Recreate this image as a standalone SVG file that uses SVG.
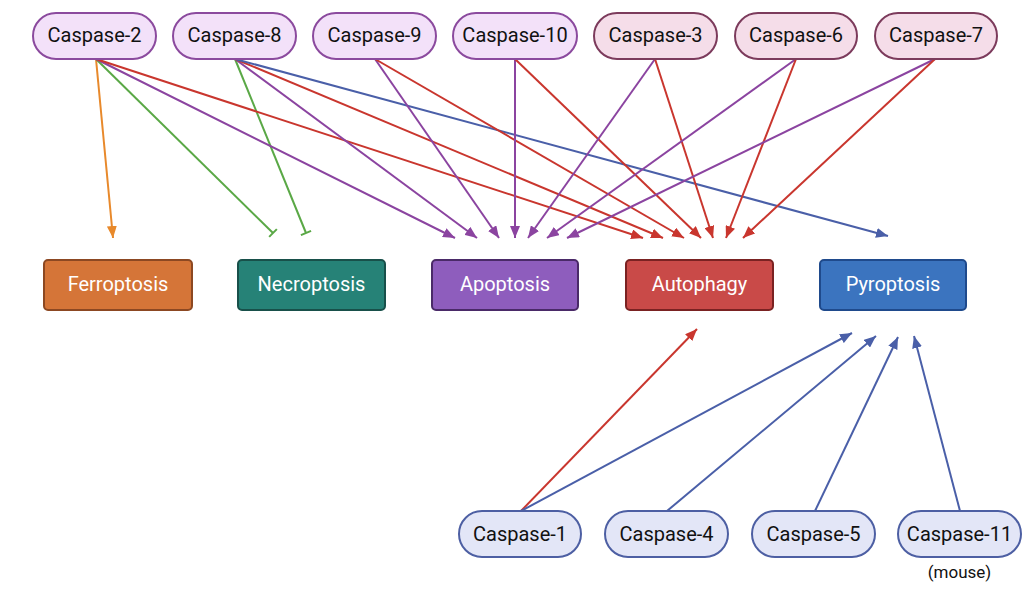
<svg xmlns="http://www.w3.org/2000/svg" width="1034" height="589" viewBox="0 0 1034 589">
<defs>
<style>
.pill text, .box text { font-family: Roboto, "Liberation Sans", sans-serif; font-size: 20px; text-anchor: middle; dominant-baseline: central; }
.pill text { fill: #111; }
.box text { fill: #fff; }
.p1 rect { fill: #f3e1f9; stroke: #8b4a9e; stroke-width: 2; }
.p2 rect { fill: #f5dde9; stroke: #7c3b5c; stroke-width: 2; }
.p3 rect { fill: #e3e6f7; stroke: #4d5fa3; stroke-width: 2; }
.box rect { stroke-width: 2; }
.edge { fill: none; stroke-width: 2; }
.or { stroke: #e8892b; }
.gr { stroke: #5aa846; }
.pu { stroke: #8b44a0; }
.rd { stroke: #c9362e; }
.bl { stroke: #4a5fa8; }
.pill text.note { font-size: 17px; dominant-baseline: auto; }
</style>
<marker id="aOr" viewBox="0 0 12 10" refX="12" refY="5" markerWidth="12" markerHeight="10" markerUnits="userSpaceOnUse" orient="auto"><path d="M0,0 L12,5 L0,10 z" fill="#e8892b"/></marker>
<marker id="aPu" viewBox="0 0 12 10" refX="12" refY="5" markerWidth="12" markerHeight="10" markerUnits="userSpaceOnUse" orient="auto"><path d="M0,0 L12,5 L0,10 z" fill="#8b44a0"/></marker>
<marker id="aRd" viewBox="0 0 12 10" refX="12" refY="5" markerWidth="12" markerHeight="10" markerUnits="userSpaceOnUse" orient="auto"><path d="M0,0 L12,5 L0,10 z" fill="#c9362e"/></marker>
<marker id="aBl" viewBox="0 0 12 10" refX="12" refY="5" markerWidth="12" markerHeight="10" markerUnits="userSpaceOnUse" orient="auto"><path d="M0,0 L12,5 L0,10 z" fill="#4a5fa8"/></marker>
<marker id="tGr" viewBox="-2 -6 4 12" refX="0" refY="0" markerWidth="4" markerHeight="12" markerUnits="userSpaceOnUse" orient="auto"><path d="M0,-5.5 L0,5.5" stroke="#5aa846" stroke-width="2"/></marker>
</defs>
<rect width="1034" height="589" fill="#fff"/>

<g id="connectors">
  <line class="edge or" x1="96" y1="59" x2="113" y2="238" marker-end="url(#aOr)"/>
  <line class="edge gr" x1="96" y1="59" x2="273" y2="233" marker-end="url(#tGr)"/>
  <line class="edge gr" x1="235" y1="59" x2="306" y2="233" marker-end="url(#tGr)"/>
  <line class="edge pu" x1="96" y1="59" x2="455" y2="238" marker-end="url(#aPu)"/>
  <line class="edge rd" x1="96" y1="59" x2="643" y2="238" marker-end="url(#aRd)"/>
  <line class="edge pu" x1="235" y1="59" x2="477" y2="238" marker-end="url(#aPu)"/>
  <line class="edge rd" x1="235" y1="59" x2="663" y2="238" marker-end="url(#aRd)"/>
  <line class="edge bl" x1="235" y1="59" x2="888" y2="236" marker-end="url(#aBl)"/>
  <line class="edge pu" x1="375" y1="59" x2="499" y2="238" marker-end="url(#aPu)"/>
  <line class="edge rd" x1="375" y1="59" x2="684" y2="238" marker-end="url(#aRd)"/>
  <line class="edge pu" x1="515" y1="59" x2="515" y2="238" marker-end="url(#aPu)"/>
  <line class="edge rd" x1="515" y1="59" x2="701" y2="238" marker-end="url(#aRd)"/>
  <line class="edge pu" x1="655" y1="59" x2="528" y2="238" marker-end="url(#aPu)"/>
  <line class="edge rd" x1="655" y1="59" x2="713" y2="238" marker-end="url(#aRd)"/>
  <line class="edge pu" x1="796" y1="59" x2="547" y2="238" marker-end="url(#aPu)"/>
  <line class="edge rd" x1="796" y1="59" x2="726" y2="238" marker-end="url(#aRd)"/>
  <line class="edge pu" x1="935" y1="59" x2="567" y2="238" marker-end="url(#aPu)"/>
  <line class="edge rd" x1="935" y1="59" x2="743" y2="238" marker-end="url(#aRd)"/>
  <line class="edge rd" x1="521" y1="511" x2="697" y2="329" marker-end="url(#aRd)"/>
  <line class="edge bl" x1="521" y1="511" x2="852" y2="333" marker-end="url(#aBl)"/>
  <line class="edge bl" x1="667" y1="511" x2="876" y2="336" marker-end="url(#aBl)"/>
  <line class="edge bl" x1="815" y1="511" x2="898" y2="337" marker-end="url(#aBl)"/>
  <line class="edge bl" x1="960" y1="511" x2="914" y2="336" marker-end="url(#aBl)"/>
</g>

<g id="caspase-2" class="pill p1"><rect x="33" y="13" width="123" height="46" rx="23"/><text x="94.5" y="35">Caspase-2</text></g>
<g id="caspase-8" class="pill p1"><rect x="173" y="13" width="123" height="46" rx="23"/><text x="234.5" y="35">Caspase-8</text></g>
<g id="caspase-9" class="pill p1"><rect x="313" y="13" width="123" height="46" rx="23"/><text x="374.5" y="35">Caspase-9</text></g>
<g id="caspase-10" class="pill p1"><rect x="453" y="13" width="124" height="46" rx="23"/><text x="515" y="35">Caspase-10</text></g>
<g id="caspase-3" class="pill p2"><rect x="594" y="13" width="123" height="46" rx="23"/><text x="655.5" y="35">Caspase-3</text></g>
<g id="caspase-6" class="pill p2"><rect x="735" y="13" width="122" height="46" rx="23"/><text x="796" y="35">Caspase-6</text></g>
<g id="caspase-7" class="pill p2"><rect x="875" y="13" width="122" height="46" rx="23"/><text x="936" y="35">Caspase-7</text></g>

<g id="ferroptosis" class="box"><rect x="44" y="260" width="148" height="50" rx="4" fill="#d57538" stroke="#8c4822"/><text x="118" y="284">Ferroptosis</text></g>
<g id="necroptosis" class="box"><rect x="238" y="260" width="147" height="50" rx="4" fill="#268277" stroke="#18504a"/><text x="311.5" y="284">Necroptosis</text></g>
<g id="apoptosis" class="box"><rect x="432" y="260" width="146" height="50" rx="4" fill="#8e5dbd" stroke="#4a2a68"/><text x="505" y="284">Apoptosis</text></g>
<g id="autophagy" class="box"><rect x="626" y="260" width="147" height="50" rx="4" fill="#c94a48" stroke="#7a2222"/><text x="699.5" y="284">Autophagy</text></g>
<g id="pyroptosis" class="box"><rect x="820" y="260" width="146" height="50" rx="4" fill="#3b74bf" stroke="#1f4a8c"/><text x="893" y="284">Pyroptosis</text></g>

<g id="caspase-1" class="pill p3"><rect x="459" y="511" width="122" height="46" rx="23"/><text x="520" y="534">Caspase-1</text></g>
<g id="caspase-4" class="pill p3"><rect x="605" y="511" width="123" height="46" rx="23"/><text x="666.5" y="534">Caspase-4</text></g>
<g id="caspase-5" class="pill p3"><rect x="752" y="511" width="123" height="46" rx="23"/><text x="813.5" y="534">Caspase-5</text></g>
<g id="caspase-11" class="pill p3"><rect x="898" y="511" width="123" height="46" rx="23"/><text x="959.5" y="534">Caspase-11</text><text class="note" x="959.5" y="578">(mouse)</text></g>
</svg>
